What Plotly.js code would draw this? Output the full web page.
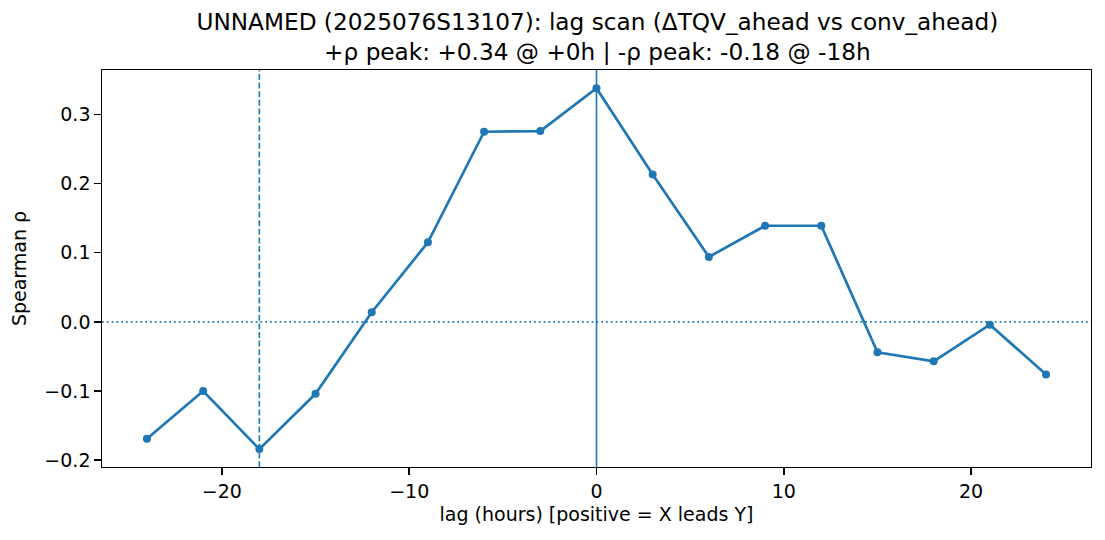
<!DOCTYPE html>
<html>
<head>
<meta charset="utf-8">
<script src="https://cdn.plot.ly/plotly-3.0.1.min.js"></script>
<style>html,body{margin:0;padding:0;background:#fff;}#chart{width:1105px;height:540px;}</style>
</head>
<body>
<div id="chart"></div>
<script>
// Data
const lagHours = [-24, -21, -18, -15, -12, -9, -6, -3, 0, 3, 6, 9, 12, 15, 18, 21, 24];
const spearmanRho = [-0.169, -0.100, -0.184, -0.104, 0.014, 0.115, 0.275, 0.276, 0.338, 0.213, 0.094, 0.139, 0.139, -0.044, -0.057, -0.004, -0.076];
const xTickVals = [-20, -10, 0, 10, 20];
const yTickVals = [-0.2, -0.1, 0.0, 0.1, 0.2, 0.3];
const titleLines = ["UNNAMED (2025076S13107): lag scan (ΔTQV_ahead vs conv_ahead)", "+ρ peak: +0.34 @ +0h | -ρ peak: -0.18 @ -18h"];
const xTitle = "lag (hours) [positive = X leads Y]";
const yTitle = "Spearman ρ";

const blue = "#1f77b4";
let iMax = 0, iMin = 0;
spearmanRho.forEach((v, i) => { if (v > spearmanRho[iMax]) iMax = i; if (v < spearmanRho[iMin]) iMin = i; });
const posPeakLag = lagHours[iMax];
const negPeakLag = lagHours[iMin];

const font = "DejaVu Sans, sans-serif";
const fs = 19;

const trace = {
  x: lagHours, y: spearmanRho, type: "scatter", mode: "lines+markers",
  line: {color: blue, width: 2.7},
  marker: {color: blue, size: 8},
  hoverinfo: "x+y", showlegend: false
};

const layout = {
  width: 1105, height: 540,
  margin: {l: 102, r: 13.5, t: 70, b: 73.3, pad: 0},
  paper_bgcolor: "#fff", plot_bgcolor: "#fff",
  font: {family: font, size: fs, color: "#000"},
  title: {
    text: titleLines.join("<br>"),
    font: {family: font, size: 23.2, color: "#000"},
    x: 0.5406, xanchor: "center", xref: "container",
    y: 1 - 30/540, yanchor: "middle", yref: "container"
  },
  xaxis: {
    range: [-26.4, 26.4], tickvals: xTickVals, ticktext: xTickVals.map(v => v < 0 ? "\u2212" + Math.abs(v) : String(v)),
    ticks: "outside", ticklen: 6.3, tickwidth: 1.4, tickcolor: "#000",
    showline: true, linecolor: "#000", linewidth: 1.4, mirror: true,
    showgrid: false, zeroline: false,
    tickfont: {family: font, size: fs, color: "#000"},
    title: {text: xTitle, font: {family: font, size: fs, color: "#000"}, standoff: 7}
  },
  yaxis: {
    range: [-0.2099, 0.3643], tickvals: yTickVals, tickformat: ".1f",
    ticks: "outside", ticklen: 6.3, tickwidth: 1.4, tickcolor: "#000",
    showline: true, linecolor: "#000", linewidth: 1.4, mirror: true,
    showgrid: false, zeroline: false,
    tickfont: {family: font, size: fs, color: "#000"},
    title: {text: yTitle, font: {family: font, size: fs, color: "#000"}, standoff: 12}
  },
  shapes: [
    {type: "line", xref: "paper", yref: "y", x0: 0, x1: 1, y0: 0, y1: 0,
     line: {color: blue, width: 1.8, dash: "1.8px,3px"}, layer: "below"},
    {type: "line", xref: "x", yref: "paper", x0: posPeakLag, x1: posPeakLag, y0: 0, y1: 1,
     line: {color: blue, width: 1.6}, layer: "below"},
    {type: "line", xref: "x", yref: "paper", x0: negPeakLag, x1: negPeakLag, y0: 0, y1: 1,
     line: {color: blue, width: 1.6, dash: "6px,2.6px"}, layer: "below"}
  ]
};

Plotly.newPlot("chart", [trace], layout, {displayModeBar: false, staticPlot: true});
</script>
</body>
</html>
